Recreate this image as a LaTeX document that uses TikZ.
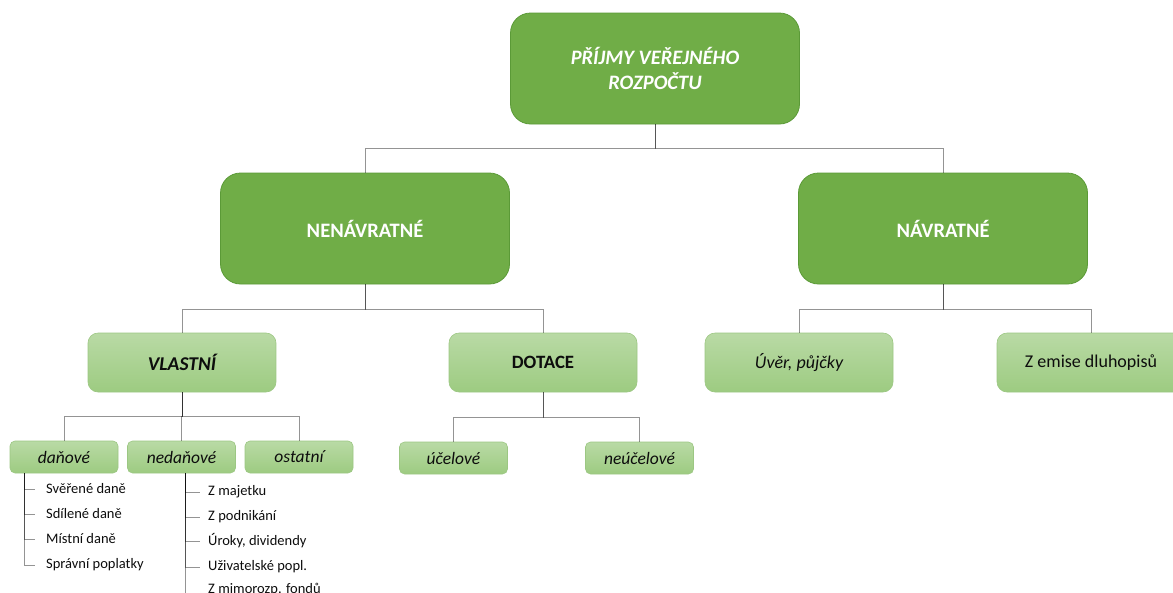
\documentclass[tikz,border=0pt]{standalone}
\usepackage{fontspec}
\setmainfont{Carlito}
\definecolor{darkg}{HTML}{70AD47}
\definecolor{darkedge}{HTML}{5B9A37}
\definecolor{lighttop}{HTML}{B9DAA5}
\definecolor{lightbot}{HTML}{9DCB81}
\definecolor{lightedge}{HTML}{9CC783}
\definecolor{txt}{HTML}{0D0D0D}
\begin{document}
\begin{tikzpicture}[x=1pt,y=-1pt,
 dark/.style={draw=darkedge, fill=darkg, rounded corners=20pt, text=white, align=center, line width=0.8pt,
   minimum width=289pt, minimum height=111pt, font=\fontsize{20.5}{25}\selectfont\bfseries},
 light/.style={draw=lightedge, top color=lighttop, bottom color=lightbot, rounded corners=10pt, line width=0.6pt,
   minimum width=188pt, minimum height=59pt, text=txt, font=\fontsize{18}{22}\selectfont},
 small/.style={draw=lightedge, top color=lighttop, bottom color=lightbot, rounded corners=5pt, line width=0.6pt,
   minimum width=108pt, minimum height=32pt, text=txt, font=\fontsize{17.5}{20}\selectfont\itshape},
 conn/.style={draw=black, draw opacity=0.42, line width=0.9pt},
 item/.style={anchor=west, inner sep=0pt, text=txt, font=\fontsize{14.5}{16}\selectfont}
]
\useasboundingbox (0,0) rectangle (1173,592);

% level 1
\node[dark] (top) at (655,68.5) {\itshape PŘÍJMY VEŘEJNÉHO\\\itshape ROZPOČTU};
% level 2
\node[dark] (nen) at (365,228.5) {NENÁVRATNÉ};
\node[dark] (nav) at (943,228.5) {NÁVRATNÉ};
% level 3
\node[light] (vla) at (182,362.5) {\fontsize{19.5}{22}\selectfont\bfseries\itshape VLASTNÍ};
\node[light] (dot) at (543,362.5) {\fontsize{18.8}{22}\selectfont\bfseries DOTACE};
\node[light] (uver) at (799,362.5) {\itshape Úvěr, půjčky};
\node[light] (emise) at (1091,362.5) {Z emise dluhopisů};
% level 4
\node[small] (dan) at (64,457) {daňové};
\node[small] (neda) at (181.5,457) {nedaňové};
\node[small] (ost) at (299,457) {ostatní};
\node[small] (uce) at (453.5,458) {účelové};
\node[small] (neuce) at (639.5,458) {neúčelové};

% connectors
\draw[conn] (top.south) -- ++(0,24) -| (nen.north);
\draw[conn] (top.south) -- ++(0,24) -| (nav.north);
\draw[conn] (nen.south) -- ++(0,25) -| (vla.north);
\draw[conn] (nen.south) -- ++(0,25) -| (dot.north);
\draw[conn] (nav.south) -- ++(0,25) -| (uver.north);
\draw[conn] (nav.south) -- ++(0,25) -| (emise.north);
\draw[conn] (vla.south) -- ++(0,24.5) -| (dan.north);
\draw[conn] (vla.south) -- ++(0,24.5) -| (neda.north);
\draw[conn] (vla.south) -- ++(0,24.5) -| (ost.north);
\draw[conn] (dot.south) -- ++(0,25) -| (uce.north);
\draw[conn] (dot.south) -- ++(0,25) -| (neuce.north);

% lists
\coordinate (dsp) at (24,473);
\node[item] (d1) at (46,489) {Svěřené daně};
\node[item] (d2) at (46,514) {Sdílené daně};
\node[item] (d3) at (46,539) {Místní daně};
\node[item] (d4) at (46,565) {Správní poplatky};
\foreach \i in {d1,d2,d3,d4}{\draw[conn] (dsp) |- ([xshift=-11pt]\i.west);}

\coordinate (nsp) at (185,473);
\node[item] (n1) at (208,492) {Z majetku};
\node[item] (n2) at (208,517) {Z podnikání};
\node[item] (n3) at (208,541) {Úroky, dividendy};
\node[item] (n4) at (208,567) {Uživatelské popl.};
\node[item] (n5) at (208,590) {Z mimorozp. fondů};
\foreach \i in {n1,n2,n3,n4}{\draw[conn] (nsp) |- ([xshift=-8pt]\i.west);}
\draw[conn] (nsp) |- ([xshift=-8pt,yshift=-3pt]n5.west);
\end{tikzpicture}
\end{document}
